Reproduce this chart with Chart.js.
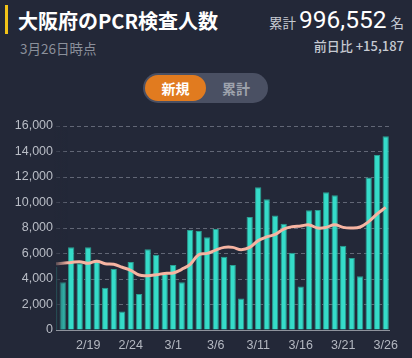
<!DOCTYPE html>
<html lang="ja">
<head>
<meta charset="utf-8">
<script src="https://cdn.jsdelivr.net/npm/chart.js@4.4.0/dist/chart.umd.min.js"></script>
<style>
  html, body { margin:0; padding:0; }
  body { width:412px; height:358px; background:#232838; position:relative; overflow:hidden;
         font-family:"Noto Sans CJK JP", "Noto Sans", sans-serif; }
  .abs { position:absolute; }
  #bar { left:5px; top:5px; width:3px; height:29px; background:#f2c318; }
  #title { left:18px; top:9px; font-size:20px; line-height:24px; font-weight:700; color:#ffffff; white-space:nowrap; }
  #sub { left:20px; top:40px; font-size:13.5px; line-height:17px; color:#8b909b; white-space:nowrap; }
  #total { right:8px; top:6px; white-space:nowrap; color:#ffffff; line-height:28px; }
  #total .s { font-size:13.5px; color:#c6cad2; }
  #total .n { font-family:Roboto, "Noto Sans", sans-serif; font-size:24.5px; margin:0 4px 0 3px; }
  #diff { right:8px; top:38px; font-size:13px; line-height:16px; color:#c6cad2; font-weight:500; white-space:nowrap; }
  #pill { left:143px; top:73px; width:125px; height:30px; border-radius:15px; background:#4a5063; }
  #on { left:145px; top:75px; width:61px; height:26px; border-radius:13px; background:#e17b1f;
        color:#fff; font-size:14px; font-weight:700; line-height:26px; text-align:center; }
  #off { left:206px; top:75px; width:60px; height:26px; color:#9ea3ad; font-size:14px; font-weight:700;
         line-height:26px; text-align:center; }
  #wrap { left:0; top:110px; width:412px; height:248px; }
  #fade { left:54px; top:120px; width:14px; height:209px;
          background:linear-gradient(to right, rgba(35,40,56,0.85), rgba(35,40,56,0)); pointer-events:none; }
</style>
</head>
<body>
<div class="abs" id="bar"></div>
<div class="abs" id="title">大阪府のPCR検査人数</div>
<div class="abs" id="sub">3月26日時点</div>
<div class="abs" id="total"><span class="s">累計</span><span class="n">996,552</span><span class="s">名</span></div>
<div class="abs" id="diff">前日比 +15,187</div>
<div class="abs" id="pill"></div>
<div class="abs" id="on">新規</div>
<div class="abs" id="off">累計</div>
<div class="abs" id="wrap"><canvas id="c" width="412" height="248"></canvas></div>
<div class="abs" id="fade"></div>
<script>
// Dates (index 0 = 2/14)
const dates = ["2/14","2/15","2/16","2/17","2/18","2/19","2/20","2/21","2/22","2/23","2/24","2/25","2/26","2/27","2/28",
  "3/1","3/2","3/3","3/4","3/5","3/6","3/7","3/8","3/9","3/10","3/11","3/12","3/13","3/14","3/15",
  "3/16","3/17","3/18","3/19","3/20","3/21","3/22","3/23","3/24","3/25","3/26"];
// Daily new PCR tests
const newTests = [null,4970,3750,6500,5230,6500,5490,3320,4780,1460,5330,2820,6330,5910,4440,
  5100,3740,7840,7760,7270,7920,5750,5100,2480,8860,11190,10250,8990,8340,6060,
  3420,9390,9410,10800,10560,6610,5650,4210,11970,13730,15187];
// 7-day average
const avg7 = [null,5180,5230,5300,5360,5230,5400,5200,5150,4920,4680,4310,4260,4330,4440,
  4470,4760,5150,5910,6010,6270,6480,6480,6300,6480,7010,7300,7500,7920,8100,
  8160,8240,8000,8050,8260,8050,8000,8080,8500,9100,9620];
const yTicks = [0,2000,4000,6000,8000,10000,12000,14000,16000];
const xTickLabels = ["2/19","2/24","3/1","3/6","3/11","3/16","3/21","3/26"];

const barPts = dates.map((d,i)=>({x:i, y:newTests[i]})).filter(p=>p.y!==null);
const linePts = dates.map((d,i)=>({x:i, y:avg7[i]})).filter(p=>p.y!==null);

new Chart(document.getElementById('c'), {
  type: 'bar',
  data: {
    datasets: [
      { type:'line', data: linePts, borderColor:'#f6b4a2', borderWidth:3, pointRadius:0,
        tension:0.4, order:0, fill:false },
      { type:'bar', data: barPts, backgroundColor:'#35dcc9', borderColor:'#2a9f92', borderWidth:1,
        barPercentage:0.74, categoryPercentage:1, order:1 }
    ]
  },
  options: {
    responsive:false, animation:false, devicePixelRatio:1,
    layout:{ padding:{ top:16, right:23, left:0, bottom:0 } },
    plugins:{ legend:{display:false}, tooltip:{enabled:false} },
    scales:{
      x:{
        type:'linear', min:1.212, max:40.39, offset:false,
        grid:{ display:false, drawTicks:false },
        border:{ display:true, color:'#8e929c', width:1 },
        afterBuildTicks:(s)=>{ s.ticks = xTickLabels.map(l=>({value: dates.indexOf(l)})); },
        ticks:{ color:'#b4b8c1', font:{ family:'"Liberation Sans", Arial, sans-serif', size:12.5 }, padding:8,
          maxRotation:0, autoSkip:false, callback:(v)=>dates[v] },
        afterFit:(s)=>{ s.height = 28; }
      },
      y:{
        min:0, max:16000,
        grid:{ color:'#626776', lineWidth:1, drawTicks:false },
        border:{ display:false, dash:[4,3] },
        afterBuildTicks:(s)=>{ s.ticks = yTicks.map(v=>({value:v})); },
        ticks:{ color:'#b9bdc6', font:{ family:'"Liberation Sans", Arial, sans-serif', size:12.5 }, padding:3,
          callback:(v)=>v.toLocaleString('en-US') },
        afterFit:(s)=>{ s.width = 56; }
      }
    }
  }
});
</script>
</body>
</html>
